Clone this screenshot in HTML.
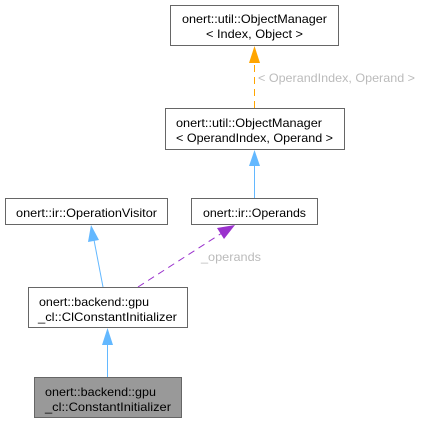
<!DOCTYPE html>
<html><head><meta charset="utf-8"><style>
html,body{margin:0;padding:0;background:#fff;width:421px;height:424px;overflow:hidden}
svg text{font-family:"Liberation Sans",sans-serif;font-size:12px}
</style></head><body>
<svg width="421" height="424" xmlns="http://www.w3.org/2000/svg">
<rect x="170.5" y="5.5" width="168" height="40" fill="#fff" stroke="#666"/>
<text x="182" y="23" textLength="145" lengthAdjust="spacingAndGlyphs">onert::util::ObjectManager</text>
<text x="206" y="38" textLength="97" lengthAdjust="spacingAndGlyphs">&lt; Index, Object &gt;</text>

<rect x="165.5" y="108.5" width="179" height="41" fill="#fff" stroke="#666"/>
<text x="176" y="127" textLength="146" lengthAdjust="spacingAndGlyphs">onert::util::ObjectManager</text>
<text x="176" y="142" textLength="157" lengthAdjust="spacingAndGlyphs">&lt; OperandIndex, Operand &gt;</text>

<rect x="5.5" y="198.5" width="162" height="26" fill="#fff" stroke="#666"/>
<text x="16" y="217" textLength="141" lengthAdjust="spacingAndGlyphs">onert::ir::OperationVisitor</text>

<rect x="191.5" y="198.5" width="126" height="26" fill="#fff" stroke="#666"/>
<text x="203" y="217" textLength="103" lengthAdjust="spacingAndGlyphs">onert::ir::Operands</text>

<rect x="28.5" y="287.5" width="159" height="40" fill="#fff" stroke="#666"/>
<text x="39" y="306" textLength="110" lengthAdjust="spacingAndGlyphs">onert::backend::gpu</text>
<text x="38" y="321" textLength="139" lengthAdjust="spacingAndGlyphs">_cl::ClConstantInitializer</text>

<rect x="34.5" y="377.5" width="147" height="40" fill="#999" stroke="#666"/>
<text x="45" y="396" textLength="111" lengthAdjust="spacingAndGlyphs">onert::backend::gpu</text>
<text x="45" y="411" textLength="126" lengthAdjust="spacingAndGlyphs">_cl::ConstantInitializer</text>

<line x1="254.5" y1="108" x2="254.5" y2="62" stroke="#ffa500" stroke-dasharray="7,5"/>
<path d="M249,63 L254.5,46 L260,63 z" fill="#ffa500"/>
<text x="258" y="82" fill="#bbb" textLength="157" lengthAdjust="spacingAndGlyphs">&lt; OperandIndex, Operand &gt;</text>

<line x1="254.5" y1="198" x2="254.5" y2="165" stroke="#63b8ff"/>
<path d="M249,166 L254.5,150 L260,166 z" fill="#63b8ff"/>

<line x1="103" y1="287" x2="94" y2="240" stroke="#63b8ff"/>
<path d="M88,242 L91,225 L99,240 z" fill="#63b8ff"/>

<line x1="107.5" y1="377" x2="107.5" y2="344" stroke="#63b8ff"/>
<path d="M102,345 L107.5,328 L113,345 z" fill="#63b8ff"/>

<line x1="138" y1="287" x2="222" y2="233" stroke="#9a32cd" stroke-dasharray="7,5"/>
<path d="M217,228 L235,225 L224,239 z" fill="#9a32cd"/>
<text x="201" y="261" fill="#bbb" textLength="60" lengthAdjust="spacingAndGlyphs">_operands</text>
</svg>
</body></html>
